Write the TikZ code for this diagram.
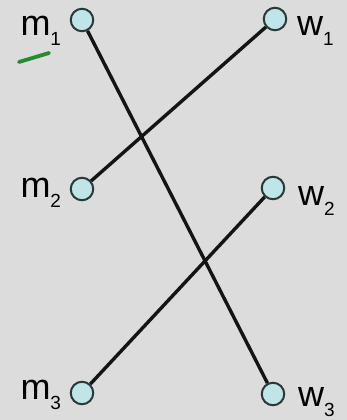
\documentclass[tikz,border=0pt]{standalone}
\usepackage{fontspec}
\setmainfont{Liberation Sans}
\definecolor{bg}{HTML}{DCDCDC}
\definecolor{vfill}{HTML}{BFE5E8}
\definecolor{vdraw}{HTML}{2A3838}
\definecolor{greenstroke}{HTML}{2A8A30}
\newcommand{\lab}[2]{{\fontsize{36}{36}\selectfont #1}{\fontsize{19}{19}\selectfont\raisebox{-10pt}{#2}}}
\begin{document}
\begin{tikzpicture}[x=1pt,y=-1pt,
  vertex/.style={circle,draw=vdraw,fill=vfill,line width=2pt,minimum size=22.5pt,inner sep=0pt},
  lbl/.style={anchor=base west,inner sep=0pt,outer sep=0pt,text=black},
  link/.style={line width=3.4pt,draw=black!92}]
\fill[bg] (0,0) rectangle (347,420);
\useasboundingbox (0,0) rectangle (347,420);
\node[vertex] (m1) at (82,20) {};
\node[vertex] (m2) at (82,189) {};
\node[vertex] (m3) at (82,393) {};
\node[vertex] (w1) at (275,19) {};
\node[vertex] (w2) at (273,188) {};
\node[vertex] (w3) at (273,394) {};
\node[lbl] (lm1) at (20.5,36) {\lab{m}{1}};
\node[lbl] (lm2) at (20.5,197) {\lab{m}{2}};
\node[lbl] (lm3) at (20.5,399) {\lab{m}{3}};
\node[lbl] (lw1) at (297,36) {\lab{w}{1}};
\node[lbl] (lw2) at (298,205) {\lab{w}{2}};
\node[lbl] (lw3) at (298,406) {\lab{w}{3}};
\draw[link] (m1) -- (w3);
\draw[link] (m2) -- (w1);
\draw[link] (m3) -- (w2);
\coordinate (g1) at (19,62);
\coordinate (g2) at (49,53);
\draw[greenstroke,line width=3.8pt,line cap=round] (g1) -- (g2);
\end{tikzpicture}
\end{document}
